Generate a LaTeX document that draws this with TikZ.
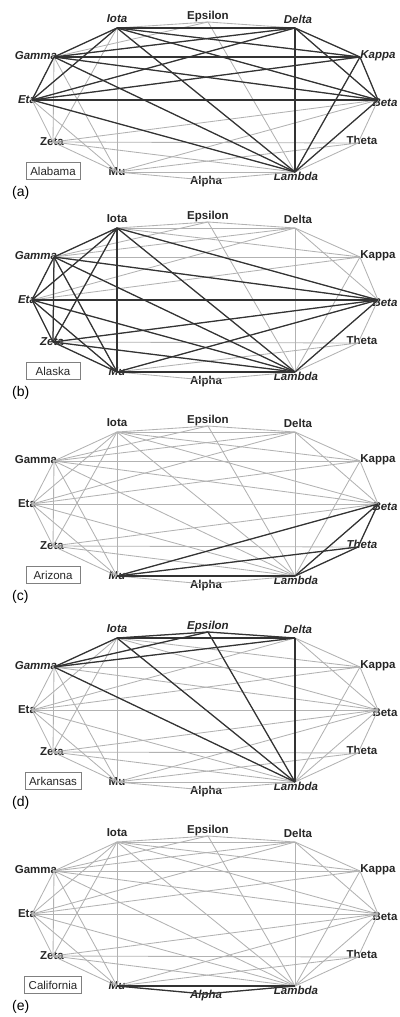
\documentclass[tikz,border=0pt]{standalone}
\usepackage{fontspec}
\setmainfont{Liberation Sans}
\tikzset{
  lbl/.style={font=\fontsize{11.5}{12}\selectfont\bfseries, inner sep=0pt, text=black!85},
  it/.style={font=\fontsize{11.5}{12}\selectfont\bfseries\itshape},
  gedge/.style={draw=black!30, line width=0.85pt},
  bedge/.style={draw=black!80, line width=1.25pt},
  statebox/.style={draw=black!50, line width=0.5pt, font=\fontsize{11.5}{12}\selectfont, minimum width=54pt, minimum height=17pt, inner xsep=4pt, inner ysep=0pt, text=black!85},
  plabel/.style={font=\fontsize{14}{14}\selectfont, anchor=west, inner sep=0pt},
  lsE/.style={}, lsD/.style={}, lsK/.style={}, lsB/.style={}, lsT/.style={}, lsL/.style={},
  lsA/.style={}, lsM/.style={}, lsZ/.style={}, lsH/.style={}, lsG/.style={}, lsI/.style={}
}
\def\baseedges{I/D, I/G, I/K, I/H, I/B, I/L, D/G, D/K, D/H, D/B, D/L, G/K, G/H, G/B, G/L, K/H, K/B, K/L, H/B, H/L, B/L, I/Z, I/M, G/Z, G/M, H/Z, H/M, Z/M, Z/L, Z/B, M/L, M/B, B/T, T/M, T/L, I/E, E/D, G/E, E/L, M/A, A/L, Z/T}
\newcommand{\panelgraph}[6]{%
  \begin{scope}[shift={(0,#2)}, #6]
    \foreach \n/\x/\y in {E/208/22, D/295/28, K/360/57, B/378/100, T/358/143, L/295/172, A/205/180, M/117/172, Z/53/142, H/32/100, G/54/57, I/117/28} {\coordinate (#1\n) at (\x,\y);}
    \foreach \n/\t/\x/\y in {E/Epsilon/208/17, D/Delta/298/19, K/Kappa/378/56, B/Beta/385/103, T/Theta/362/140, L/Lambda/296/176, A/Alpha/206/182, M/Mu/117/172, Z/Zeta/52/142, H/Eta/27/100, G/Gamma/36/56, I/Iota/117/19} {\node[lbl, ls\n] (#1\n-l) at (\x,\y) {\t};}
    \foreach \u/\v in \baseedges {\draw[gedge] (#1\u) -- (#1\v);}
    \foreach \u/\v in {#5} {\draw[bedge] (#1\u) -- (#1\v);}
    \node[statebox] (#1box) at (53,171) {#3};
    \node[plabel] (#1let) at (12,193) {(#4)};
  \end{scope}
}
\begin{document}
\begin{tikzpicture}[x=1pt,y=-1pt]
\useasboundingbox (0,0) rectangle (399,1017);
\panelgraph{a}{0}{Alabama}{a}{I/D, I/G, I/K, I/H, I/B, I/L, D/G, D/K, D/H, D/B, D/L, G/K, G/H, G/B, G/L, K/H, K/B, K/L, H/B, H/L, B/L}{lsI/.style=it, lsD/.style=it, lsG/.style=it, lsK/.style=it, lsH/.style=it, lsB/.style=it, lsL/.style=it}
\panelgraph{b}{200}{Alaska}{b}{I/G, I/H, I/Z, I/M, I/L, I/B, G/H, G/Z, G/M, G/L, G/B, H/Z, H/M, H/L, H/B, Z/M, Z/L, Z/B, M/L, M/B, L/B}{lsG/.style=it, lsH/.style=it, lsZ/.style=it, lsM/.style=it, lsL/.style=it, lsB/.style=it}
\panelgraph{c}{404}{Arizona}{c}{B/T, B/M, B/L, T/M, T/L, M/L}{lsB/.style=it, lsT/.style=it, lsM/.style=it, lsL/.style=it}
\panelgraph{d}{610}{Arkansas}{d}{I/E, E/D, I/D, G/I, G/E, G/D, G/L, I/L, E/L, D/L}{lsI/.style=it, lsE/.style=it, lsD/.style=it, lsG/.style=it, lsL/.style=it}
\panelgraph{e}{814}{California}{e}{M/A, A/L, M/L}{lsM/.style=it, lsA/.style=it, lsL/.style=it}
\end{tikzpicture}
\end{document}
